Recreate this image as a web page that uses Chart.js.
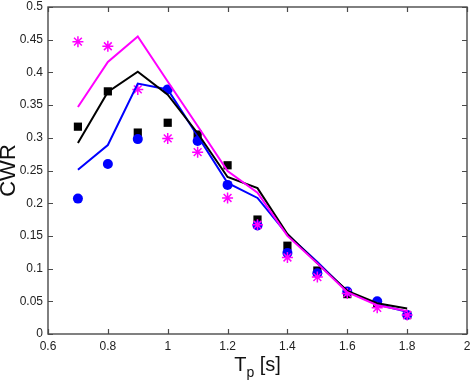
<!DOCTYPE html>
<html><head><meta charset="utf-8">
<script src="https://cdn.jsdelivr.net/npm/chart.js@4/dist/chart.umd.min.js"></script>
<style>html,body{margin:0;padding:0;background:#fff}#wrap{width:474px;height:383px}</style>
</head><body><div id="wrap"><canvas id="c" width="474" height="383"></canvas></div>
<script>
const tp = [0.7,0.8,0.9,1.0,1.1,1.2,1.3,1.4,1.5,1.6,1.7,1.8];
const magentaLine = [0.347,0.416,0.455,0.386,0.318,0.249,0.216,0.150,0.108,0.064,0.044,0.035];
const blackLine   = [0.292,0.370,0.401,0.366,0.307,0.240,0.223,0.153,0.108,0.066,0.047,0.039];
const blueLine    = [0.251,0.289,0.383,0.374,0.303,0.231,0.208,0.152,0.110,0.065,0.045,0.034];
const squares     = [0.317,0.371,0.308,0.323,0.305,0.258,0.175,0.135,0.097,0.061,0.046,0.029];
const circles     = [0.207,0.260,0.298,0.374,0.295,0.228,0.166,0.124,0.093,0.065,0.050,0.029];
const asterisks   = [0.447,0.440,0.374,0.299,0.278,0.208,0.167,0.117,0.087,0.062,0.040,0.029];
const xTicks = [0.6,0.8,1,1.2,1.4,1.6,1.8,2];
const yTicks = [0,0.05,0.1,0.15,0.2,0.25,0.3,0.35,0.4,0.45,0.5];
const xTitle = ['T','p',' [s]'];
const yTitle = 'CWR';

const MAG='#FF00FF', BLU='#0000FF', BLK='#000000';
const pts = arr => tp.map((x,i)=>({x, y:arr[i]}));

const frame = {
  id:'frame',
  afterDraw(chart){
    const {ctx, chartArea:a, scales:{x,y}} = chart;
    ctx.save();
    ctx.strokeStyle='#4a4a4a'; ctx.lineWidth=1.4;
    ctx.strokeRect(a.left, a.top, a.right-a.left, a.bottom-a.top);
    const L=5;
    ctx.lineWidth=1.2;
    ctx.beginPath();
    xTicks.forEach(v=>{const px=Math.round(x.getPixelForValue(v))+0.5;
      ctx.moveTo(px,a.bottom); ctx.lineTo(px,a.bottom-L);
      ctx.moveTo(px,a.top); ctx.lineTo(px,a.top+L);});
    yTicks.forEach(v=>{const py=Math.round(y.getPixelForValue(v))+0.5;
      ctx.moveTo(a.left,py); ctx.lineTo(a.left+L,py);
      ctx.moveTo(a.right,py); ctx.lineTo(a.right-L,py);});
    ctx.stroke();
    // x title with subscript
    ctx.fillStyle='#111';
    const big='20px "Liberation Sans", Arial, sans-serif', small='14px "Liberation Sans", Arial, sans-serif';
    ctx.font=big; const w0=ctx.measureText(xTitle[0]).width, w2=ctx.measureText(xTitle[2]).width;
    ctx.font=small; const w1=ctx.measureText(xTitle[1]).width;
    const total=w0+w1+w2; let sx=(a.left+a.right)/2-total/2; const base=371;
    ctx.textBaseline='alphabetic'; ctx.textAlign='left';
    ctx.font=big; ctx.fillText(xTitle[0],sx,base); sx+=w0;
    ctx.font=small; ctx.fillText(xTitle[1],sx,base+6); sx+=w1;
    ctx.font=big; ctx.fillText(xTitle[2],sx,base);
    ctx.restore();
  }
};

const tickFont = {family:'"Liberation Sans", Arial, sans-serif', size:12};
new Chart(document.getElementById('c'), {
  type:'scatter',
  data:{datasets:[
    {label:'magenta line', data:pts(magentaLine), showLine:true, borderColor:MAG, borderWidth:2, pointRadius:0, order:0, tension:0},
    {label:'black line', data:pts(blackLine), showLine:true, borderColor:BLK, borderWidth:2, pointRadius:0, order:0, tension:0},
    {label:'blue line', data:pts(blueLine), showLine:true, borderColor:BLU, borderWidth:2, pointRadius:0, order:0, tension:0},
    {label:'asterisks', data:pts(asterisks), showLine:false, pointStyle:'star', pointRadius:5.5, borderColor:MAG, backgroundColor:MAG, pointBorderWidth:1.5, order:1},
    {label:'circles', data:pts(circles), showLine:false, pointStyle:'circle', pointRadius:5, borderColor:BLU, backgroundColor:BLU, pointBorderWidth:0, order:2},
    {label:'squares', data:pts(squares), showLine:false, pointStyle:'rect', pointRadius:5.8, borderColor:BLK, backgroundColor:BLK, pointBorderWidth:0, order:3}
  ]},
  options:{
    responsive:false, animation:false, devicePixelRatio:1,
    layout:{padding:{top:5,right:3,left:0,bottom:0}},
    plugins:{legend:{display:false}, tooltip:{enabled:false}},
    scales:{
      x:{type:'linear', min:0.6, max:2,
        afterBuildTicks:s=>{s.ticks=xTicks.map(v=>({value:v}));},
        afterFit:s=>{s.height=49; s.paddingLeft=0; s.paddingRight=0;},
        grid:{display:false, drawTicks:false}, border:{display:false},
        ticks:{padding:5, color:'#222', font:tickFont, maxRotation:0, callback:v=>String(+(+v).toFixed(2))}},
      y:{type:'linear', min:0, max:0.5,
        afterBuildTicks:s=>{s.ticks=yTicks.map(v=>({value:v}));},
        afterFit:s=>{s.width=48; s.paddingTop=0; s.paddingBottom=0;},
        grid:{display:false, drawTicks:false}, border:{display:false},
        title:{display:true, text:yTitle, color:'#111', font:{family:'"Liberation Sans", Arial, sans-serif', size:22, lineHeight:0.85}, padding:{top:0,bottom:0}},
        ticks:{padding:5, color:'#222', font:tickFont, callback:v=>String(+(+v).toFixed(2))}}
    }
  },
  plugins:[frame]
});
</script></body></html>
